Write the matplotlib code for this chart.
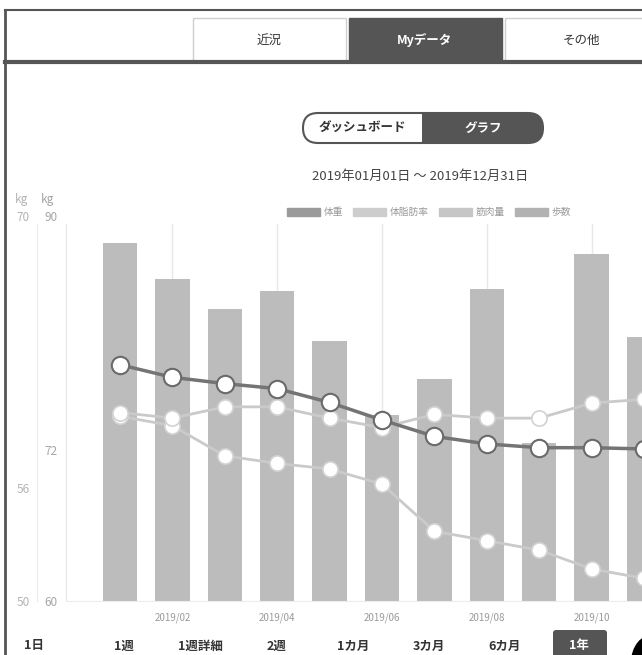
import numpy as np
import matplotlib
matplotlib.use("Agg")
import matplotlib.pyplot as plt
from matplotlib.patches import Rectangle, FancyBboxPatch, Patch, Ellipse

plt.rcParams['font.family'] = ['Noto Sans CJK JP', 'DejaVu Sans']

# データ (2019年 月別)
months = ["2019/01", "2019/02", "2019/03", "2019/04", "2019/05", "2019/06",
          "2019/07", "2019/08", "2019/09", "2019/10", "2019/11"]
steps = [9490, 8530, 7750, 8220, 6900, 4930, 5890, 8270, 4180, 9200, 7010]
weight = [78.8, 77.8, 77.3, 76.9, 75.8, 74.4, 73.1, 72.5, 72.2, 72.2, 72.1]
muscle = [60.0, 59.7, 60.3, 60.3, 59.7, 59.2, 59.9, 59.7, 59.7, 60.5, 60.7]
body_fat = [19.8, 19.3, 17.7, 17.3, 17.0, 16.2, 13.7, 13.2, 12.7, 11.7, 11.2]

tick_idx = [1, 3, 5, 7, 9]
weight_ticks = [60, 72, 90]
muscle_ticks = [50, 56, 70]
periods = ["1日", "1週", "1週詳細", "2週", "1カ月", "3カ月", "6カ月", "1年"]
period_x = [34, 124, 200, 277, 353, 429, 505, 579]
tabs = ["近況", "Myデータ", "その他"]

W, H = 642, 655
fig = plt.figure(figsize=(W / 100, H / 100), dpi=100)

# 画面の枠・タブなど (ピクセル座標)
ui = fig.add_axes([0, 0, 1, 1])
ui.set_xlim(0, W)
ui.set_ylim(H, 0)
ui.axis('off')

ui.plot([5, 5], [10, H], color='#555555', lw=2)
ui.plot([5, W], [10, 10], color='#555555', lw=1.5)

tab_x = [193, 349, 505]
for i, (name, x0) in enumerate(zip(tabs, tab_x)):
    active = i == 1
    ui.add_patch(Rectangle((x0, 18), 153, 44, facecolor='#555555' if active else 'white',
                           edgecolor='#555555' if active else '#cfcfcf', lw=1))
    ui.text(x0 + 76, 40, name, ha='center', va='center', fontsize=9,
            color='white' if active else '#333333', fontweight='bold' if active else 'normal')
ui.plot([5, W], [62, 62], color='#555555', lw=3)

# ダッシュボード / グラフ 切替
ui.add_patch(FancyBboxPatch((303, 113), 240, 30, boxstyle="round,pad=0,rounding_size=15",
                            facecolor='#555555', edgecolor='none'))
ui.add_patch(FancyBboxPatch((303, 113), 140, 30, boxstyle="round,pad=0,rounding_size=15",
                            facecolor='white', edgecolor='none'))
ui.add_patch(Rectangle((422, 113), 25, 30, facecolor='#555555', edgecolor='none'))
ui.add_patch(FancyBboxPatch((303, 113), 240, 30, boxstyle="round,pad=0,rounding_size=15",
                            facecolor='none', edgecolor='#555555', lw=1.5))
ui.text(362, 128, "ダッシュボード", ha='center', va='center', fontsize=9,
        color='#333333', fontweight='bold')
ui.text(483, 128, "グラフ", ha='center', va='center', fontsize=9,
        color='white', fontweight='bold')

ui.text(420, 176, "2019年01月01日 ～ 2019年12月31日", ha='center', va='center',
        fontsize=9.5, color='#444444')

# 軸の単位
ui.text(21, 200, "kg", ha='center', va='center', fontsize=8.5, color='#b4b4b4')
ui.text(47, 200, "kg", ha='center', va='center', fontsize=8.5, color='#a6a6a6')

# 期間ボタン
for name, px in zip(periods, period_x):
    if name == "1年":
        ui.add_patch(FancyBboxPatch((553, 630), 54, 30, boxstyle="round,pad=0,rounding_size=3",
                                    facecolor='#555555', edgecolor='none'))
    ui.text(px, 646, name, ha='center', va='center', fontsize=9, fontweight='bold',
            color='white' if name == "1年" else '#333333')
ui.add_patch(Ellipse((654, 662), 46, 56, facecolor='black', edgecolor='none'))

# グラフ本体
x = np.arange(len(months))
step_px = 52.4
left_px, right_px, bottom_px, top_px = 66, 750, 601, 224
ax = fig.add_axes([left_px / W, (H - bottom_px) / H, (right_px - left_px) / W,
                   (bottom_px - top_px) / H])
ax.set_xlim(-(120 - left_px) / step_px, (right_px - 120) / step_px)

ax.bar(x, steps, width=0.66, color='#bcbcbc', zorder=2)
ax.set_ylim(0, 10000)
ax.set_yticks([])
ax.set_xticks(tick_idx)
ax.set_xticklabels([months[i] for i in tick_idx], fontsize=7, color='#9a9a9a')
ax.tick_params(axis='x', length=0, pad=8)
ax.grid(axis='x', color='#e8e8e8', lw=1, zorder=0)
for s in ['top', 'right']:
    ax.spines[s].set_visible(False)
ax.spines['left'].set_color('#e6e6e6')
ax.spines['bottom'].set_color('#ececec')

ax_f = ax.twinx()
ax_f.plot(x, body_fat, color='#cacaca', lw=2, marker='o', ms=11, mfc='white',
          mec='#d2d2d2', mew=1.2)
ax_f.set_ylim(10, 30)
ax_f.axis('off')

ax_m = ax.twinx()
ax_m.plot(x, muscle, color='#cacaca', lw=2, marker='o', ms=11, mfc='white',
          mec='#d2d2d2', mew=1.2)
ax_m.set_ylim(50, 70)
ax_m.yaxis.set_ticks_position('left')
ax_m.yaxis.set_label_position('left')
ax_m.set_yticks(muscle_ticks)
ax_m.tick_params(axis='y', length=0, pad=5, labelsize=8.5, labelcolor='#b4b4b4')
for s in ['top', 'right', 'bottom']:
    ax_m.spines[s].set_visible(False)
ax_m.spines['left'].set_visible(True)
ax_m.spines['left'].set_position(('outward', 21))
ax_m.spines['left'].set_color('#ececec')

ax_w = ax.twinx()
ax_w.plot(x, weight, color='#747474', lw=2.5, marker='o', ms=12.5, mfc='white',
          mec='#6a6a6a', mew=1.5)
ax_w.set_ylim(60, 90)
ax_w.yaxis.set_ticks_position('left')
ax_w.yaxis.set_label_position('left')
ax_w.set_yticks(weight_ticks)
ax_w.tick_params(axis='y', length=0, pad=6, labelsize=8.5, labelcolor='#a6a6a6')
for s in ['top', 'right', 'bottom', 'left']:
    ax_w.spines[s].set_visible(False)
for lab in ax_m.get_yticklabels()[-1:] + ax_w.get_yticklabels()[-1:]:
    lab.set_verticalalignment('bottom')

handles = [Patch(color='#9a9a9a', label='体重'), Patch(color='#cdcdcd', label='体脂肪率'),
           Patch(color='#c6c6c6', label='筋肉量'), Patch(color='#b2b2b2', label='歩数')]
fig.legend(handles=handles, loc='center', bbox_to_anchor=(429 / W, 1 - 212 / H), ncol=4,
           frameon=False, fontsize=7, handlelength=3.4, handleheight=0.9,
           handletextpad=0.4, columnspacing=1.0, labelcolor='#999999')

fig.savefig("out.png", dpi=100)
